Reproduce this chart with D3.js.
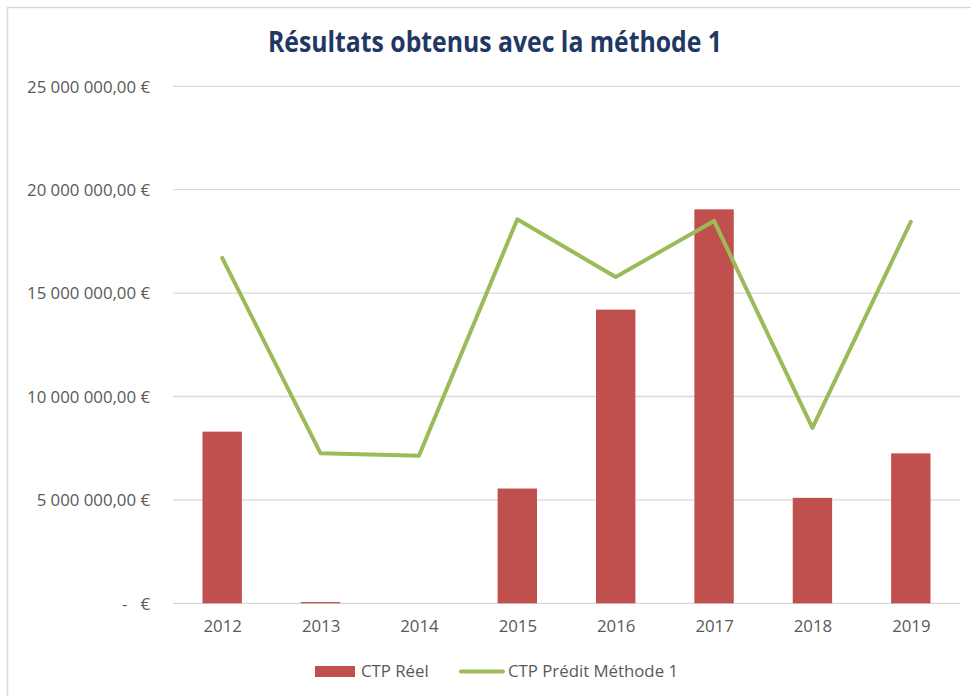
<!DOCTYPE html>
<html>
<head>
<meta charset="utf-8">
<script src="https://cdn.jsdelivr.net/npm/d3@7"></script>
<style>
  html, body { margin: 0; padding: 0; background: #fff; }
  svg { display: block; }
  text { font-family: "Open Sans", "Noto Sans", sans-serif; }
</style>
</head>
<body>
<div id="chart"></div>
<script>
// Années et valeurs (en euros)
const years = ["2012", "2013", "2014", "2015", "2016", "2017", "2018", "2019"];
const ctpReel = [8300000, 60000, 0, 5550000, 14200000, 19050000, 5100000, 7250000];
const ctpPredit = [16700000, 7250000, 7140000, 18570000, 15780000, 18490000, 8480000, 18450000];
const yTicks = [0, 5000000, 10000000, 15000000, 20000000, 25000000];
const seriesNames = ["CTP Réel", "CTP Prédit Méthode 1"];
const titleText = "Résultats obtenus avec la méthode 1";

const W = 971, H = 696;
const plot = { left: 173, right: 960, top: 86.3, bottom: 603.3 };
const red = "#C0504D", green = "#9BBB59", textCol = "#595959", gridCol = "#D9D9D9";
const fs = 16.8;

const svg = d3.select("#chart").append("svg").attr("width", W).attr("height", H);

// Cadre du graphique
svg.append("rect").attr("x", 7.5).attr("y", 7.5).attr("width", W + 10).attr("height", H + 10)
  .attr("fill", "#fff").attr("stroke", "#D9D9D9").attr("stroke-width", 1.5);

// Titre
svg.append("text").attr("x", 495).attr("y", 52).attr("text-anchor", "middle")
  .attr("font-size", 28).attr("font-weight", 700).attr("fill", "#1F3864")
  .attr("textLength", 454).attr("lengthAdjust", "spacingAndGlyphs")
  .text(titleText);

const xc = d3.scalePoint().domain(years).range([plot.left, plot.right]).padding(0.5);
const y = d3.scaleLinear().domain([0, 25000000]).range([plot.bottom, plot.top]);

// Format comptable
const fmt = v => v === 0 ? "-   €" :
  d3.format(",.2f")(v).replace(/,/g, " ").replace(".", ",") + " €";

// Axe Y + quadrillage
const yAxis = d3.axisLeft(y).tickValues(yTicks).tickFormat(fmt).tickSize(0).tickPadding(23);
const gy = svg.append("g").attr("transform", `translate(${plot.left},0)`).call(yAxis);
gy.select(".domain").remove();
gy.selectAll("text").attr("font-size", fs).attr("fill", textCol).attr("font-family", "\"Open Sans\", sans-serif")
  .attr("dy", "0.35em").style("white-space", "pre");

svg.append("g").selectAll("line").data(yTicks).join("line")
  .attr("x1", plot.left).attr("x2", plot.right)
  .attr("y1", d => y(d)).attr("y2", d => y(d))
  .attr("stroke", gridCol).attr("stroke-width", 1.3);

// Barres
svg.append("g").selectAll("rect").data(years).join("rect")
  .attr("x", d => xc(d) - 19.7)
  .attr("width", 39.4)
  .attr("y", (d, i) => y(ctpReel[i]))
  .attr("height", (d, i) => y(0) - y(ctpReel[i]))
  .attr("fill", red);

// Ligne prédite
const line = d3.line().x((d, i) => xc(years[i])).y(d => y(d));
svg.append("path").datum(ctpPredit).attr("d", line)
  .attr("fill", "none").attr("stroke", green).attr("stroke-width", 4).attr("stroke-linejoin", "round").attr("stroke-linecap", "round");

// Axe X
const xAxis = d3.axisBottom(xc).tickSize(0).tickPadding(17);
const gx = svg.append("g").attr("transform", `translate(0,${plot.bottom})`).call(xAxis);
gx.select(".domain").remove();
gx.selectAll("text").attr("font-size", fs).attr("fill", textCol).attr("font-family", "\"Open Sans\", sans-serif");

// Légende
const lg = svg.append("g");
lg.append("rect").attr("x", 315).attr("y", 666).attr("width", 40).attr("height", 11).attr("fill", red);
lg.append("text").attr("x", 361).attr("y", 671).attr("dy", "0.35em").attr("font-size", fs).attr("fill", textCol).text(seriesNames[0]);
lg.append("line").attr("x1", 461).attr("x2", 503).attr("y1", 671.5).attr("y2", 671.5)
  .attr("stroke", green).attr("stroke-width", 4).attr("stroke-linecap", "round");
lg.append("text").attr("x", 508).attr("y", 671).attr("dy", "0.35em").attr("font-size", fs).attr("fill", textCol).text(seriesNames[1]);
</script>
</body>
</html>
